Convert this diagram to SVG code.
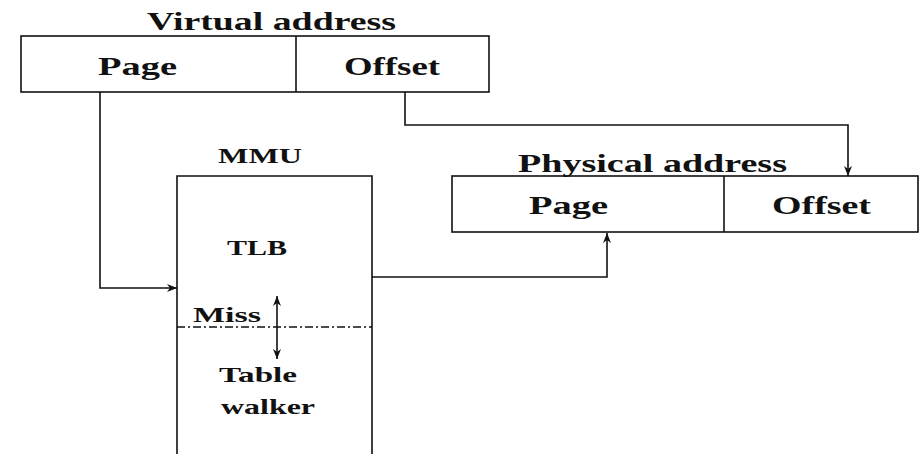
<svg xmlns="http://www.w3.org/2000/svg" width="922" height="454" viewBox="0 0 922 454">
<style>
.box{fill:none;stroke:#111;stroke-width:1.6}
.ln{fill:none;stroke:#111;stroke-width:1.6}
.t{font-family:"Liberation Serif","Times New Roman",serif;font-weight:bold;fill:#111}
.big{font-size:26px}
.sm{font-size:21px}
</style>
<defs>
<marker id="ah" viewBox="0 0 10 8" refX="10" refY="4" markerWidth="10" markerHeight="8" markerUnits="userSpaceOnUse" orient="auto-start-reverse">
<path d="M0,0 L10,4 L0,8 L3,4 Z" fill="#111"/>
</marker>
</defs>
<rect width="922" height="454" fill="#fff"/>
<g id="virtual-address">
<text class="t big" x="147" y="30" textLength="249" lengthAdjust="spacingAndGlyphs">Virtual address</text>
<rect class="box" x="21" y="36" width="468" height="56"/>
<line class="ln" x1="296" y1="36" x2="296" y2="92"/>
<text class="t big" x="98" y="75" textLength="79" lengthAdjust="spacingAndGlyphs">Page</text>
<text class="t big" x="344" y="75" textLength="96" lengthAdjust="spacingAndGlyphs">Offset</text>
</g>
<g id="mmu">
<text class="t sm" x="218" y="163" textLength="84" lengthAdjust="spacingAndGlyphs">MMU</text>
<path class="box" d="M177,454 L177,176 L372,176 L372,454"/>
<text class="t sm" x="227" y="255" textLength="60" lengthAdjust="spacingAndGlyphs">TLB</text>
<text class="t sm" x="193" y="322" textLength="68" lengthAdjust="spacingAndGlyphs">Miss</text>
<line x1="177" y1="327" x2="372" y2="327" stroke="#111" stroke-width="1.3" stroke-dasharray="8 3 2 3"/>
<text class="t sm" x="219" y="382" textLength="78" lengthAdjust="spacingAndGlyphs">Table</text>
<text class="t sm" x="221" y="414" textLength="94" lengthAdjust="spacingAndGlyphs">walker</text>
</g>
<g id="physical-address">
<text class="t big" x="518" y="172" textLength="269" lengthAdjust="spacingAndGlyphs">Physical address</text>
<rect class="box" x="452" y="176" width="466" height="56"/>
<line class="ln" x1="724" y1="176" x2="724" y2="232"/>
<text class="t big" x="529" y="214" textLength="79" lengthAdjust="spacingAndGlyphs">Page</text>
<text class="t big" x="772" y="214" textLength="99" lengthAdjust="spacingAndGlyphs">Offset</text>
</g>
<g id="connectors">
<path class="ln" d="M100,92 L100,288 L177,288" marker-end="url(#ah)"/>
<path class="ln" d="M405,92 L405,125 L848,125 L848,176" marker-end="url(#ah)"/>
<path class="ln" d="M372,277 L607,277 L607,233" marker-end="url(#ah)"/>
<line class="ln" x1="277" y1="296" x2="277" y2="359" marker-start="url(#ah)" marker-end="url(#ah)"/>
</g>
</svg>
